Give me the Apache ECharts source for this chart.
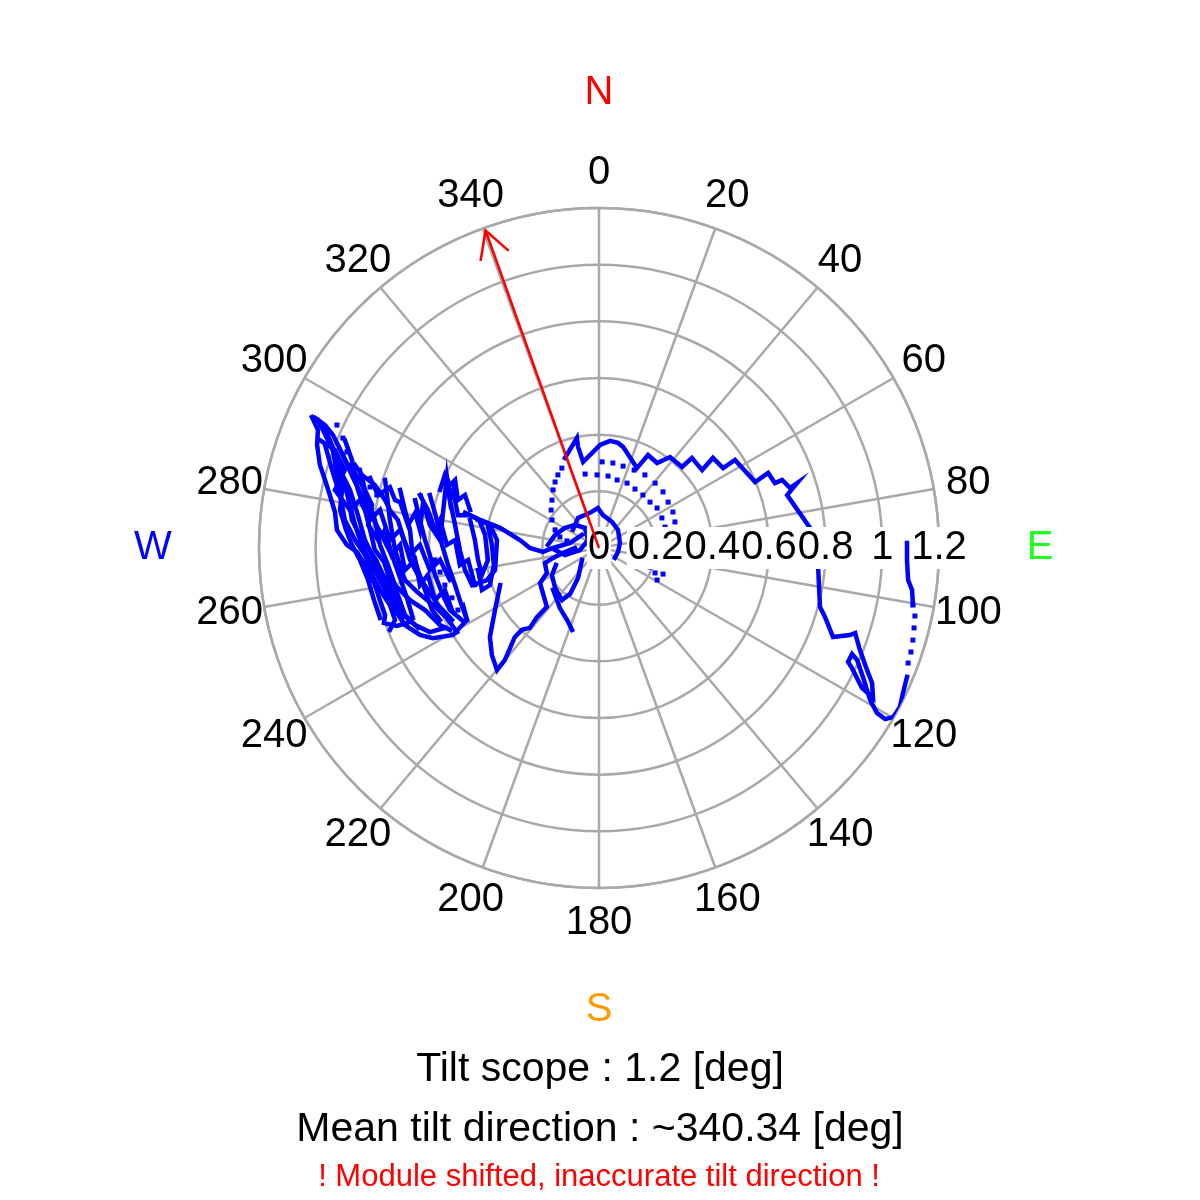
<!DOCTYPE html>
<html>
<head>
<meta charset="utf-8">
<script src="https://cdn.jsdelivr.net/npm/echarts@6/dist/echarts.min.js"></script>
<style>html,body{margin:0;padding:0;background:#fff}#main{width:1200px;height:1200px}</style>
</head>
<body>
<div id="main"></div>
<script>
// ---- values: tilt components [east, north] in degrees ----
const tiltScope = 1.2;
const meanDirection = 340.34;
const arrowLength = 1.19;
const radiusTicks = { min: 0, max: 1.2, step: 0.2 };
const angleTicks = { min: 0, max: 360, step: 20 };
const angleTickLabels = [0, 20, 40, 60, 80, 100, 120, 140, 160, 180, 200, 220, 240, 260, 280, 300, 320, 340];

const rightArc = [[-0.120,0.318],[-0.078,0.388],[-0.074,0.357],[-0.056,0.304],[-0.025,0.335],[0.004,0.364],[0.039,0.378],[0.067,0.371],[0.085,0.357],[0.134,0.282],[0.173,0.328],[0.205,0.300],[0.251,0.321],[0.293,0.286],[0.328,0.318],[0.364,0.275],[0.402,0.318],[0.438,0.282],[0.480,0.311],[0.551,0.233],[0.597,0.265],[0.621,0.229],[0.646,0.240],[0.674,0.212],[0.699,0.229],[0.664,0.187],[0.745,0.071],[0.773,-0.060],[0.780,-0.208],[0.798,-0.244],[0.826,-0.314],[0.886,-0.307],[0.904,-0.300],[0.921,-0.360],[0.942,-0.420],[0.964,-0.477],[0.967,-0.529],[0.928,-0.494],[0.893,-0.424],[0.879,-0.402],[0.893,-0.374],[0.911,-0.395],[0.935,-0.466],[0.957,-0.537],[0.981,-0.582],[1.010,-0.604],[1.038,-0.597],[1.062,-0.561],[1.073,-0.512],[1.087,-0.455]];
const rightTail = [[1.108,-0.201],[1.105,-0.148],[1.091,-0.113],[1.087,-0.042],[1.087,0.018]];
const centerLoop = [[-0.092,0.064],[-0.074,0.106],[-0.032,0.124],[-0.004,0.141],[0.014,0.116],[0.046,0.092],[0.067,0.064],[0.074,0.018],[0.067,-0.014],[0.056,-0.035]];
const westLink = [[-0.473,0.124],[-0.420,0.099],[-0.349,0.071],[-0.279,0.028],[-0.244,0],[-0.198,-0.014],[-0.162,0],[-0.102,0.018],[-0.060,0.046]];
const southTail = [[-0.349,-0.131],[-0.367,-0.219],[-0.385,-0.314],[-0.378,-0.378],[-0.360,-0.431],[-0.332,-0.395],[-0.297,-0.314],[-0.272,-0.289],[-0.244,-0.282],[-0.219,-0.244],[-0.184,-0.208],[-0.198,-0.159],[-0.208,-0.124],[-0.184,-0.088],[-0.191,-0.053],[-0.162,-0.035],[-0.120,-0.014],[-0.085,0]];
const centerKnot1 = [[-0.060,-0.042],[-0.074,-0.106],[-0.102,-0.162],[-0.131,-0.184],[-0.155,-0.141],[-0.166,-0.095],[-0.152,-0.060]];
const centerKnot2 = [[-0.162,-0.148],[-0.138,-0.212],[-0.109,-0.261],[-0.095,-0.289]];
const centerKnot3 = [[-0.180,0.011],[-0.155,0.046],[-0.120,0.071],[-0.085,0.081],[-0.049,0.071],[-0.039,0.028],[-0.067,-0.007],[-0.120,-0.025],[-0.155,-0.007]];
const westA = [[-1.013,0.462],[-0.992,0.417],[-0.995,0.364],[-0.985,0.293],[-0.967,0.240],[-0.950,0.187],[-0.932,0.127],[-0.925,0.064],[-0.890,0.011],[-0.854,-0.014],[-0.819,-0.071],[-0.791,-0.131],[-0.773,-0.184],[-0.755,-0.236],[-0.759,-0.265],[-0.713,-0.275],[-0.667,-0.261]];
const westB = [[-1.002,0.459],[-0.967,0.434],[-0.939,0.399],[-0.904,0.328],[-0.868,0.247],[-0.833,0.176],[-0.798,0.106],[-0.762,0.035],[-0.727,-0.035],[-0.702,-0.106],[-0.678,-0.176],[-0.657,-0.247]];
const westC = [[-0.978,0.434],[-0.950,0.381],[-0.921,0.304],[-0.897,0.222],[-0.879,0.152],[-0.861,0.081],[-0.837,0.011],[-0.801,-0.060],[-0.755,-0.148],[-0.720,-0.219],[-0.685,-0.272],[-0.632,-0.307],[-0.586,-0.318],[-0.515,-0.307],[-0.466,-0.254],[-0.480,-0.201]];
const westD = [[-0.808,0.247],[-0.780,0.187],[-0.738,0.215],[-0.720,0.169],[-0.702,0.162],[-0.674,0.081],[-0.649,0.124],[-0.632,0.064],[-0.621,0.159],[-0.597,0.081],[-0.561,0.028],[-0.537,0.251],[-0.526,0.169],[-0.515,0.205],[-0.498,0.116],[-0.455,0.116],[-0.420,0.099]];
const westE = [[-0.755,0.240],[-0.738,0.099],[-0.720,-0.007],[-0.685,-0.113],[-0.642,-0.155],[-0.586,-0.201],[-0.537,-0.247],[-0.501,-0.297]];
const westF = [[-0.537,0.251],[-0.526,0.169],[-0.508,0.081],[-0.491,-0.007],[-0.473,-0.078],[-0.448,-0.131],[-0.395,-0.113],[-0.367,-0.078],[-0.360,0.028],[-0.385,0.081],[-0.427,0.099]];
const westG = [[-0.597,0.187],[-0.572,0.099],[-0.554,0.011],[-0.533,-0.060],[-0.508,-0.131],[-0.491,-0.184],[-0.466,-0.254]];
const westH = [[-0.914,0.275],[-0.879,0.205],[-0.851,0.116],[-0.826,0.028],[-0.801,-0.025],[-0.773,-0.095],[-0.738,-0.166],[-0.702,-0.226],[-0.649,-0.272],[-0.597,-0.297],[-0.544,-0.282]];
const westI = [[-0.985,0.381],[-0.932,0.346],[-0.897,0.275],[-0.932,0.205],[-0.879,0.134],[-0.844,0.169],[-0.808,0.099],[-0.773,0.134],[-0.738,0.028],[-0.702,0.064],[-0.667,-0.025],[-0.632,0.011],[-0.597,-0.078],[-0.561,-0.042],[-0.526,-0.113]];
const westJ = [[-0.992,0.452],[-0.957,0.381],[-0.932,0.328],[-0.914,0.258],[-0.886,0.187],[-0.872,0.099],[-0.844,0.046],[-0.815,0],[-0.787,-0.042],[-0.762,-0.095],[-0.731,-0.148],[-0.710,-0.201],[-0.695,-0.254]];
const westK = [[-0.967,0.364],[-0.942,0.275],[-0.914,0.187],[-0.897,0.099],[-0.861,0.028],[-0.826,-0.025],[-0.801,-0.095],[-0.773,-0.148],[-0.738,-0.201],[-0.720,-0.254],[-0.738,-0.289]];
const westL = [[-0.914,0.346],[-0.886,0.293],[-0.844,0.240],[-0.815,0.169],[-0.791,0.099],[-0.773,0.011],[-0.745,-0.060],[-0.720,-0.131],[-0.667,-0.184],[-0.614,-0.219],[-0.561,-0.272],[-0.526,-0.289]];
const westM = [[-0.844,0.275],[-0.826,0.205],[-0.801,0.152],[-0.815,0.081],[-0.780,0.028],[-0.755,0.064],[-0.731,-0.025],[-0.702,0.011],[-0.685,-0.078],[-0.649,-0.042],[-0.632,-0.131],[-0.604,-0.095],[-0.579,-0.184],[-0.544,-0.148],[-0.519,-0.219]];
const westN = [[-0.702,0.205],[-0.685,0.134],[-0.667,0.064],[-0.660,-0.007],[-0.639,-0.078],[-0.614,-0.148],[-0.589,-0.219],[-0.561,-0.254]];
const westO = [[-0.649,0.169],[-0.632,0.099],[-0.614,0.028],[-0.597,-0.025],[-0.579,-0.095],[-0.551,-0.166],[-0.526,-0.219],[-0.484,-0.254]];
const westP = [[-0.455,0.099],[-0.438,0.028],[-0.427,-0.042],[-0.413,-0.095],[-0.392,-0.042],[-0.402,0.046],[-0.420,0.092]];
const westQ = [[-0.632,0.187],[-0.604,0.134],[-0.579,0.064],[-0.561,0.099],[-0.537,0.011],[-0.508,0.028],[-0.491,-0.060],[-0.462,-0.042],[-0.438,-0.131]];
const westR = [[-0.561,0.205],[-0.544,0.258],[-0.526,0.222],[-0.508,0.240],[-0.498,0.169],[-0.473,0.187],[-0.455,0.134]];
const westS = [[-0.964,0.417],[-0.939,0.346],[-0.928,0.275],[-0.907,0.205],[-0.914,0.134],[-0.893,0.064],[-0.872,0.011],[-0.844,-0.042],[-0.815,-0.113],[-0.794,-0.184],[-0.773,-0.247]];
const westT = [[-0.897,0.381],[-0.872,0.311],[-0.851,0.205],[-0.826,0.134],[-0.808,0.064],[-0.791,-0.007],[-0.759,-0.049],[-0.738,-0.113],[-0.710,-0.166],[-0.685,-0.236],[-0.639,-0.282]];
const westU = [[-0.861,0.293],[-0.837,0.258],[-0.791,0.222],[-0.755,0.169],[-0.738,0.134],[-0.710,0.099],[-0.688,0.028],[-0.667,-0.042],[-0.639,-0.095],[-0.604,-0.148],[-0.568,-0.201],[-0.519,-0.254]];
const westV = [[-0.392,0.081],[-0.378,0.011],[-0.371,-0.060],[-0.385,-0.131],[-0.413,-0.148],[-0.427,-0.078]];

const dotsRight = [[1.091,-0.406],[1.101,-0.367],[1.108,-0.325],[1.112,-0.282],[1.115,-0.240],[1.108,-0.201]];
const dotsArcOuter = [[0.011,0.304],[0.049,0.300],[0.085,0.289],[0.124,0.275],[0.162,0.258],[0.198,0.229],[0.226,0.198],[0.244,0.162],[0.261,0.127],[0.268,0.092]];
const dotsArcInner = [[-0.049,0.261],[-0.007,0.258],[0.032,0.254],[0.064,0.240],[0.099,0.229],[0.127,0.208],[0.155,0.187],[0.180,0.162],[0.205,0.141],[0.222,0.106],[0.233,0.074]];
const dotsBelow = [[0.180,-0.067],[0.198,-0.088],[0.205,-0.113],[0.226,-0.092],[0.244,-0.060]];
const dotsArcLeft = [[-0.131,0.282],[-0.145,0.258],[-0.155,0.233],[-0.162,0.205],[-0.166,0.169],[-0.169,0.134],[-0.166,0.099],[-0.155,0.064],[-0.138,0.039],[-0.113,0.025]];
const dotsWest = [[-0.925,0.434],[-0.904,0.388],[-0.890,0.339],[-0.879,0.293],[-0.861,0.258],[-0.837,0.233],[-0.808,0.215],[-0.784,0.187],[-0.579,-0.042],[-0.561,-0.085],[-0.544,-0.131],[-0.519,-0.176],[-0.498,-0.219]];

const solidPaths = [rightArc, rightTail, centerLoop, westLink, southTail, centerKnot1, centerKnot2, centerKnot3,
  westA, westB, westC, westD, westE, westF, westG, westH, westI, westJ, westK, westL, westM, westN, westO, westP, westQ, westR,
  westS, westT, westU, westV];
const dotSets = [dotsRight, dotsArcOuter, dotsArcInner, dotsBelow, dotsArcLeft, dotsWest];

// ---- build ----
function toPolar(p) {
  const r = Math.hypot(p[0], p[1]);
  let a = Math.atan2(p[0], p[1]) * 180 / Math.PI;
  if (a < 0) a += 360;
  return [r, a];
}
const FONT = 'Liberation Sans, Arial, sans-serif';
const GRID = '#a9a9a9';
const BLUE = '#0000ff';
const LABEL_RADIUS = tiltScope * 375 / 340; // angle labels sit just outside the outer ring

const series = [];
solidPaths.forEach(path => series.push({
  type: 'line', coordinateSystem: 'polar', polarIndex: 0,
  data: path.map(toPolar), showSymbol: false, symbol: 'none', smooth: false,
  lineStyle: { color: BLUE, width: 4.5, cap: 'square', join: 'miter', opacity: 1 },
  z: 2, silent: true, animation: false
}));
dotSets.forEach(set => series.push({
  type: 'scatter', coordinateSystem: 'polar', polarIndex: 0,
  data: set.map(toPolar), symbol: 'rect', symbolSize: 5,
  itemStyle: { color: BLUE, opacity: 1 }, z: 2, silent: true, animation: false
}));
// angle tick labels (compass degrees)
series.push({
  type: 'scatter', coordinateSystem: 'polar', polarIndex: 0, clip: false,
  data: angleTickLabels.map(a => [LABEL_RADIUS, a]),
  symbol: 'circle', symbolSize: 0, itemStyle: { color: '#000', opacity: 1 },
  label: { show: true, position: 'inside', formatter: p => String(p.value[1]),
    fontSize: 40, color: '#000', opacity: 1, textBorderWidth: 0, fontFamily: FONT, align: 'center', verticalAlign: 'middle' },
  z: 5, silent: true, animation: false
});
series.push({
  type: 'custom', coordinateSystem: 'polar', polarIndex: 0,
  data: [[arrowLength, meanDirection]], z: 20, silent: true, animation: false, clip: false,
  renderItem: function (params, api) {
    const tip = api.coord([api.value(0), api.value(1)]);
    const base = api.coord([0, api.value(1)]);
    const dx = tip[0] - base[0], dy = tip[1] - base[1];
    const len = Math.hypot(dx, dy), ux = dx / len, uy = dy / len;
    const h = 27, w = 15;
    const bx = tip[0] - ux * h, by = tip[1] - uy * h;
    return { type: 'group', children: [
      { type: 'line', shape: { x1: base[0], y1: base[1], x2: tip[0], y2: tip[1] }, style: { stroke: '#ff0000', lineWidth: 2.5 } },
      { type: 'polyline', shape: { points: [[bx - uy * w, by + ux * w], tip, [bx + uy * w, by - ux * w]] }, style: { stroke: '#ff0000', lineWidth: 2.5, fill: null } }
    ] };
  }
});

function txt(text, x, y, color, size) {
  return { type: 'text', x: x, y: y, silent: true, z: 30,
    style: { text: text, fill: color, font: size + 'px ' + FONT, textAlign: 'center', textVerticalAlign: 'middle' } };
}

const option = {
  backgroundColor: '#fff',
  animation: false,
  polar: [
    { center: [599, 548], radius: 340 },
    { center: [599, 548], radius: 340 }
  ],
  angleAxis: [
    { polarIndex: 0, type: 'value', min: angleTicks.min, max: angleTicks.max, interval: angleTicks.step,
      startAngle: 90, clockwise: true,
      axisLine: { show: true, lineStyle: { color: GRID, width: 2.5 } },
      axisTick: { show: false },
      axisLabel: { show: false },
      splitLine: { show: true, lineStyle: { color: GRID, width: 2.5 } } },
    { polarIndex: 1, type: 'value', min: 0, max: 360, startAngle: 0, show: false }
  ],
  radiusAxis: [
    { polarIndex: 0, type: 'value', min: radiusTicks.min, max: radiusTicks.max, interval: radiusTicks.step,
      axisLine: { show: false }, axisTick: { show: false }, axisLabel: { show: false },
      splitLine: { show: true, lineStyle: { color: GRID, width: 2.5 } } },
    { polarIndex: 1, type: 'value', min: radiusTicks.min, max: radiusTicks.max, interval: radiusTicks.step, z: 10,
      axisLine: { show: false }, axisTick: { show: false }, splitLine: { show: false },
      axisLabel: { show: true, showMinLabel: true, showMaxLabel: true, margin: 0, fontSize: 40, color: '#000', fontFamily: FONT,
        align: 'center', verticalAlign: 'middle', backgroundColor: '#fff', padding: [1, 1] } }
  ],
  graphic: [
    txt('N', 599, 93, '#ff0000', 40),
    txt('E', 1040, 548, '#1eff1e', 40),
    txt('S', 599, 1010, '#ff9900', 40),
    txt('W', 153, 548, '#0000ff', 40),
    txt('Tilt scope : ' + tiltScope + ' [deg]', 600, 1070, '#000', 41),
    txt('Mean tilt direction : ~' + meanDirection + ' [deg]', 600, 1130, '#000', 41),
    txt('! Module shifted, inaccurate tilt direction !', 599, 1177, '#ff0000', 31)
  ],
  series: series
};
const chart = echarts.init(document.getElementById('main'), null, { renderer: 'canvas' });
chart.setOption(option);
</script>
</body>
</html>
